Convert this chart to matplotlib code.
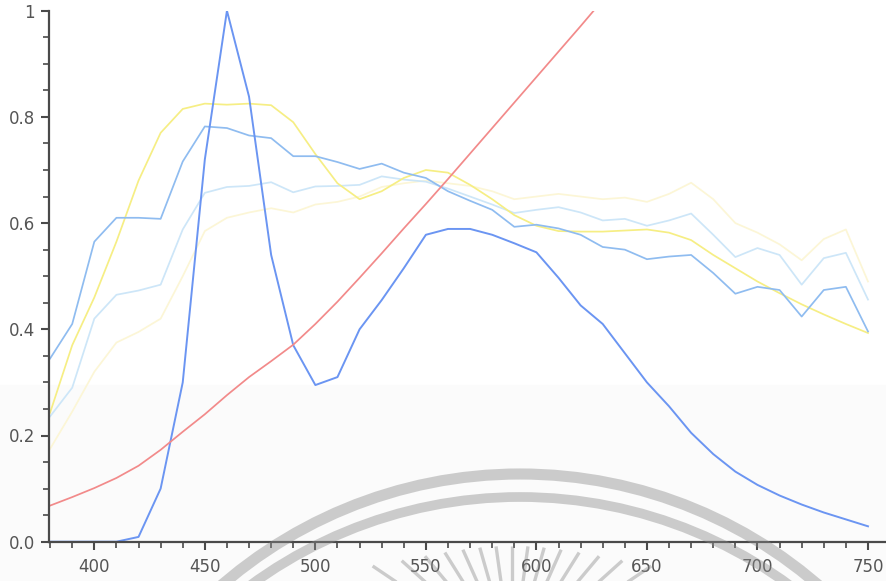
import numpy as np
import matplotlib.pyplot as plt
from matplotlib.patches import Circle
from matplotlib.ticker import MultipleLocator

# длины волн, нм
wavelength = [380, 390, 400, 410, 420, 430, 440, 450, 460, 470,
              480, 490, 500, 510, 520, 530, 540, 550, 560, 570,
              580, 590, 600, 610, 620, 630, 640, 650, 660, 670,
              680, 690, 700, 710, 720, 730, 740, 750]

# узкий пик (синий)
peak_blue = [0.0, 0.0, 0.0, 0.0, 0.009, 0.10, 0.30, 0.72, 1.0, 0.838,
             0.54, 0.37, 0.295, 0.31, 0.40, 0.455, 0.515, 0.578, 0.589, 0.589,
             0.578, 0.562, 0.545, 0.497, 0.445, 0.41, 0.355, 0.30, 0.255, 0.205,
             0.165, 0.132, 0.107, 0.087, 0.07, 0.055, 0.042, 0.029]

# голубая кривая
mid_blue = [0.345, 0.41, 0.565, 0.61, 0.61, 0.608, 0.716, 0.782, 0.779, 0.765,
            0.76, 0.726, 0.726, 0.715, 0.702, 0.712, 0.695, 0.685, 0.66, 0.642,
            0.625, 0.593, 0.597, 0.59, 0.578, 0.555, 0.55, 0.532, 0.537, 0.54,
            0.506, 0.467, 0.48, 0.474, 0.424, 0.474, 0.48, 0.396]

# бледно-голубая кривая
light_blue = [0.236, 0.29, 0.42, 0.465, 0.473, 0.484, 0.588, 0.657, 0.668, 0.67,
              0.677, 0.658, 0.669, 0.67, 0.672, 0.688, 0.682, 0.678, 0.665, 0.65,
              0.635, 0.619, 0.625, 0.63, 0.62, 0.605, 0.608, 0.595, 0.605, 0.618,
              0.578, 0.536, 0.553, 0.54, 0.484, 0.534, 0.544, 0.456]

# жёлтая кривая
yellow = [0.243, 0.37, 0.46, 0.565, 0.68, 0.77, 0.815, 0.825, 0.823, 0.825,
          0.822, 0.79, 0.73, 0.675, 0.645, 0.66, 0.685, 0.70, 0.695, 0.672,
          0.645, 0.615, 0.595, 0.585, 0.584, 0.584, 0.586, 0.588, 0.582, 0.568,
          0.54, 0.515, 0.49, 0.468, 0.447, 0.428, 0.41, 0.393]

# едва заметная жёлтая кривая
pale_yellow = [0.175, 0.245, 0.32, 0.375, 0.395, 0.42, 0.50, 0.585, 0.61, 0.62,
               0.628, 0.62, 0.635, 0.64, 0.65, 0.668, 0.675, 0.68, 0.675, 0.67,
               0.66, 0.645, 0.65, 0.655, 0.65, 0.645, 0.648, 0.64, 0.655, 0.676,
               0.645, 0.60, 0.582, 0.56, 0.53, 0.57, 0.588, 0.49]

# красная кривая (до 630 нм, выше обрезается осью)
red = [0.068, 0.084, 0.101, 0.12, 0.143, 0.173, 0.207, 0.24, 0.276, 0.31,
       0.34, 0.371, 0.41, 0.452, 0.497, 0.543, 0.59, 0.636, 0.683, 0.731,
       0.779, 0.827, 0.875, 0.923, 0.971, 1.02]

x_ticks = [400, 450, 500, 550, 600, 650, 700, 750]
y_ticks = [0.0, 0.2, 0.4, 0.6, 0.8, 1.0]
y_labels = ['0.0', '0.2', '0.4', '0.6', '0.8', '1']

W, H = 887, 581
fig = plt.figure(figsize=(W / 100, H / 100), dpi=100)
fig.patch.set_facecolor('white')

# слегка серый низ фона
fig.patches.append(plt.Rectangle((0, 0), 1, 196 / H, transform=fig.transFigure,
                                 color='#fbfbfb', zorder=-10))

ax = fig.add_axes([49 / W, 39.3 / H, 1 - 49 / W, 531 / H])
ax.set_facecolor('none')

lw = 1.25
ax.plot(wavelength, pale_yellow, color='#fcf6d6', lw=lw)
ax.plot(wavelength, light_blue, color='#cde6f8', lw=lw)
ax.plot(wavelength, yellow, color='#f6ee84', lw=lw)
ax.plot(wavelength, mid_blue, color='#8fbcf0', lw=lw)
ax.plot(wavelength, peak_blue, color='#6b95f2', lw=1.4)
ax.plot(wavelength[:len(red)], red, color='#f28a8a', lw=lw)

ax.set_xlim(379.5, 758.6)
ax.set_ylim(0, 1.0)

ax.set_xticks(x_ticks)
ax.set_xticklabels([str(v) for v in x_ticks])
ax.set_yticks(y_ticks)
ax.set_yticklabels(y_labels)
ax.xaxis.set_minor_locator(MultipleLocator(10))
ax.yaxis.set_minor_locator(MultipleLocator(0.05))

for s in ['top', 'right']:
    ax.spines[s].set_visible(False)
for s in ['left', 'bottom']:
    ax.spines[s].set_linewidth(1.6)
    ax.spines[s].set_color('#4a4a4a')

ax.tick_params(which='major', direction='out', length=6, width=1.5,
               color='#4a4a4a', labelcolor='#555555', labelsize=12)
ax.tick_params(which='minor', direction='out', length=4, width=1.2,
               color='#4a4a4a')
ax.tick_params(axis='x', which='major', pad=6)
ax.tick_params(axis='y', which='major', pad=4)

# водяной знак внизу (дуги и лучи)
ov = fig.add_axes([0, 0, 1, 1], zorder=5)
ov.set_xlim(0, W)
ov.set_ylim(H, 0)
ov.axis('off')
ov.patch.set_alpha(0)

ov.add_patch(Circle((520, 930), 456, fill=False, ec='#8a8a8a', lw=8, alpha=0.42))
ov.add_patch(Circle((520, 953), 456, fill=False, ec='#8a8a8a', lw=7, alpha=0.42))

cx, cy = 512, 660
for ang in np.arange(-56, 57, 8):
    t = np.radians(ang)
    y_top = 546 + 20 * (ang / 56.0) ** 2
    r_top = (cy - y_top) / np.cos(t)
    r_in = 40
    ov.plot([cx + r_top * np.sin(t), cx + r_in * np.sin(t)],
            [cy - r_top * np.cos(t), cy - r_in * np.cos(t)],
            color='#8a8a8a', lw=2.4, alpha=0.42, solid_capstyle='butt')

fig.savefig('out.png', dpi=100)
